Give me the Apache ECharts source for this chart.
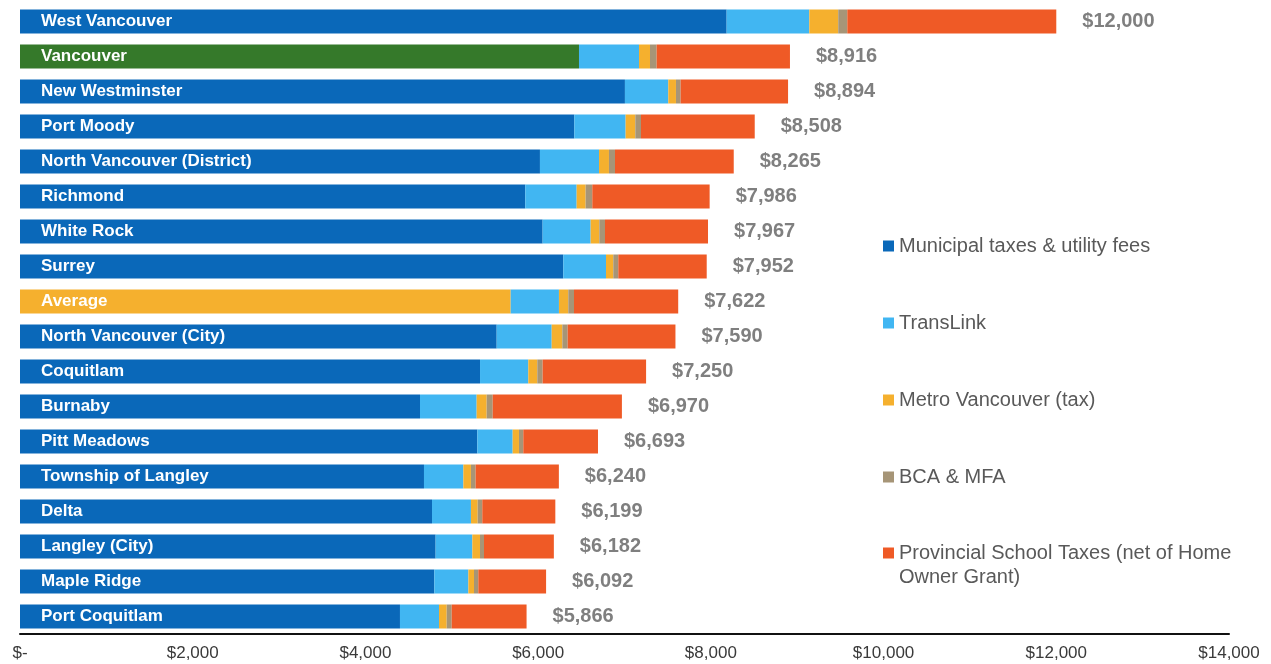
<!DOCTYPE html>
<html>
<head>
<meta charset="utf-8">
<title>Property taxes and charges by municipality</title>
<script src="https://cdn.jsdelivr.net/npm/echarts@6/dist/echarts.min.js"></script>
<style>
  html, body { margin: 0; padding: 0; background: #fff; }
  #chart { width: 1271px; height: 664px; }
</style>
</head>
<body>
<div id="chart"></div>
<script>
// Municipalities, top to bottom
const categories = [
  'West Vancouver', 'Vancouver', 'New Westminster', 'Port Moody',
  'North Vancouver (District)', 'Richmond', 'White Rock', 'Surrey',
  'Average', 'North Vancouver (City)', 'Coquitlam', 'Burnaby',
  'Pitt Meadows', 'Township of Langley', 'Delta', 'Langley (City)',
  'Maple Ridge', 'Port Coquitlam'
];

// Components of the typical bill ($)
const municipal = [8183, 6473, 7005, 6419, 6021, 5851, 6052, 6291, 5682, 5520, 5327, 4632, 5296, 4678, 4771, 4813, 4798, 4400];
const translink = [957, 695, 502, 594, 684, 595, 556, 495, 559, 637, 559, 656, 409, 456, 451, 425, 394, 452];
const metroVan  = [335, 127, 89, 112, 115, 104, 100, 84, 108, 123, 104, 116, 73, 88, 78, 89, 65, 89];
const bcaMfa    = [105, 77, 54, 66, 70, 77, 66, 58, 66, 62, 62, 70, 50, 54, 53, 46, 50, 58];
const school    = [2420, 1544, 1244, 1317, 1375, 1359, 1193, 1024, 1207, 1248, 1198, 1496, 865, 964, 846, 809, 785, 867];

const seriesNames = [
  'Municipal taxes & utility fees',
  'TransLink',
  'Metro Vancouver (tax)',
  'BCA & MFA',
  'Provincial School Taxes (net of Home Owner Grant)'
];

const COLORS = {
  municipal: '#0a68b9',
  translink: '#41b6f2',
  metro: '#f5b02e',
  bca: '#a69577',
  school: '#ef5a26',
  vancouver: '#35792a',
  average: '#f5b02e'
};

const FONT = "'Liberation Sans', Arial, sans-serif";

function money(v) {
  return '$' + String(Math.round(v)).replace(/\B(?=(\d{3})+(?!\d))/g, ',');
}

function total(i) {
  return municipal[i] + translink[i] + metroVan[i] + bcaMfa[i] + school[i];
}

// First segment: highlight Vancouver and the regional average
const municipalData = municipal.map((v, i) => {
  const name = categories[i];
  if (name === 'Vancouver') return { value: v, itemStyle: { color: COLORS.vancouver } };
  if (name === 'Average') return { value: v, itemStyle: { color: COLORS.average } };
  return v;
});

const chart = echarts.init(document.getElementById('chart'));

function legendAt(name, color, top, extra) {
  return Object.assign({
    orient: 'vertical',
    left: 883,
    top: top,
    padding: 0,
    itemWidth: 11,
    itemHeight: 11,
    icon: 'rect',
    data: [{ name: name, itemStyle: { color: color } }],
    textStyle: { color: '#595959', fontSize: 20, fontFamily: FONT }
  }, extra || {});
}

const barBase = {
  type: 'bar',
  stack: 'bill',
  barWidth: 24,
  emphasis: { disabled: true }
};

chart.setOption({
  animation: false,
  textStyle: { fontFamily: FONT },
  grid: { left: 20, right: 42, top: 4, bottom: 30, containLabel: false },
  legend: [
    legendAt(seriesNames[0], COLORS.municipal, 236),
    legendAt(seriesNames[1], COLORS.translink, 313),
    legendAt(seriesNames[2], COLORS.metro, 390),
    legendAt(seriesNames[3], COLORS.bca, 467),
    // Two-line entry: a leading blank line keeps the swatch level with the first line
    legendAt(seriesNames[4], COLORS.school, 517, {
      formatter: n => '\n' + n.replace(' Owner', '\nOwner'),
      textStyle: { color: '#595959', fontSize: 20, fontFamily: FONT, lineHeight: 24 }
    })
  ],
  xAxis: {
    type: 'value',
    min: 0,
    max: 14000,
    interval: 2000,
    splitLine: { show: false },
    axisTick: { show: false },
    axisLine: { show: true, lineStyle: { color: '#111', width: 2 } },
    axisLabel: {
      color: '#3a3a3a',
      fontSize: 17,
      fontFamily: FONT,
      margin: 11,
      formatter: v => (v === 0 ? '$-' : money(v))
    }
  },
  yAxis: {
    type: 'category',
    data: categories,
    inverse: true,
    axisLine: { show: false },
    axisTick: { show: false },
    axisLabel: { show: false },
    splitLine: { show: false }
  },
  series: [
    Object.assign({}, barBase, {
      name: seriesNames[0],
      itemStyle: { color: COLORS.municipal },
      data: municipalData,
      label: {
        show: true,
        position: 'insideLeft',
        distance: 21,
        formatter: '{b}',
        color: '#ffffff',
        fontWeight: 'bold',
        fontSize: 17,
        fontFamily: FONT
      }
    }),
    Object.assign({}, barBase, {
      name: seriesNames[1],
      itemStyle: { color: COLORS.translink },
      data: translink
    }),
    Object.assign({}, barBase, {
      name: seriesNames[2],
      itemStyle: { color: COLORS.metro },
      data: metroVan
    }),
    Object.assign({}, barBase, {
      name: seriesNames[3],
      itemStyle: { color: COLORS.bca },
      data: bcaMfa
    }),
    Object.assign({}, barBase, {
      name: seriesNames[4],
      itemStyle: { color: COLORS.school },
      data: school,
      label: {
        show: true,
        position: 'right',
        distance: 26,
        formatter: p => money(total(p.dataIndex)),
        color: '#7f7f7f',
        fontWeight: 'bold',
        fontSize: 20,
        fontFamily: FONT
      }
    })
  ]
});
</script>
</body>
</html>
